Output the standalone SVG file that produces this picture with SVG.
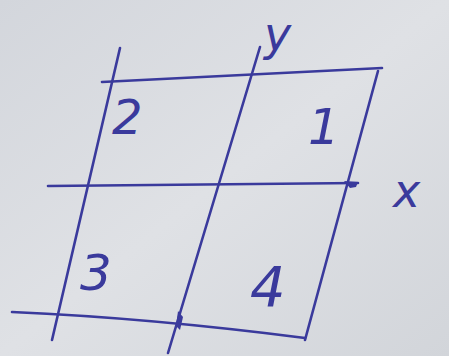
<svg xmlns="http://www.w3.org/2000/svg" width="449" height="356" viewBox="0 0 449 356">
<defs>
<style>
.ln{stroke:#3a3a9c;stroke-width:2.6;fill:none;stroke-linecap:round}
.t{font-family:"DejaVu Sans","Liberation Sans",sans-serif;fill:#3a3a9c;font-style:italic}
</style>
<linearGradient id="bg" x1="0" y1="0" x2="1" y2="1">
<stop offset="0" stop-color="#d3d6dc"/>
<stop offset="0.5" stop-color="#dfe1e5"/>
<stop offset="1" stop-color="#d2d5da"/>
</linearGradient>
</defs>
<rect width="449" height="356" fill="url(#bg)"/>
<g id="grid">
<path class="ln" d="M102 82 L382 68"/>
<path class="ln" d="M378 71 L305 340"/>
<path class="ln" d="M120 48 L52 340"/>
<path class="ln" d="M12 312 Q150 318 305 338"/>
</g>
<g id="y-axis">
<path class="ln" d="M260 47 L168 353"/>
<path d="M178 311 L183 317 L180 330 L176 326 Z" fill="#3a3a9c"/>
</g>
<g id="x-axis">
<path class="ln" d="M48 186 L358 183"/>
<path d="M344 181 L358 182 L356 187 L350 188 Z" fill="#3a3a9c"/>
</g>
<g id="labels">
<text class="t" x="264" y="50" font-size="46">y</text>
<text class="t" x="393" y="207" font-size="46">x</text>
<text class="t" x="112" y="134" font-size="48">2</text>
<text class="t" x="308" y="144" font-size="50">1</text>
<text class="t" x="80" y="290" font-size="50">3</text>
<text class="t" x="250" y="306" font-size="56">4</text>
</g>
</svg>
